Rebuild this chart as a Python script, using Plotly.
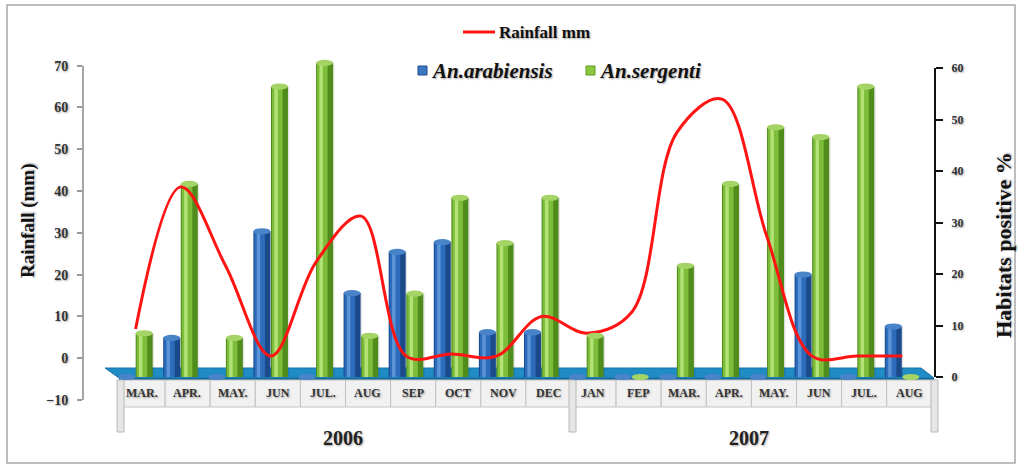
import plotly.graph_objects as go

# ---- data -------------------------------------------------------------
months = ["MAR.", "APR.", "MAY.", "JUN", "JUL.", "AUG", "SEP", "OCT", "NOV", "DEC",
          "JAN", "FEP", "MAR.", "APR.", "MAY.", "JUN", "JUL.", "AUG"]
year_labels = ["2006", "2007"]
year_counts = [10, 8]

# habitats positive (%)
arabiensis = [0, 7.6, 0, 28.3, 0, 16.3, 24.3, 26.2, 8.7, 8.7,
              0, 0, 0, 0, 0, 19.9, 0, 9.8]
sergenti = [8.5, 37.5, 7.6, 56.4, 61, 8, 16.2, 34.8, 26, 34.8,
            8, 0, 21.6, 37.5, 48.5, 46.6, 56.4, 0]

# rainfall (mm)
rainfall = [7, 41, 22, 0.5, 23, 34, 0.5, 1, 0.5, 10,
            6, 11, 54, 62, 29, 0.5, 0.5, 0.5]

left_ticks = list(range(-10, 71, 10))
right_ticks = list(range(0, 61, 10))

# ---- geometry helpers ---------------------------------------------------
W, H = 1021, 465
ML, MR, MT, MB = 83, 86, 50, 65
LEFT_PX = 334.3 / 80      # pixels per mm on the rainfall axis
RIGHT_PX = 5.15           # pixels per % on the habitats axis
FLOOR_Y = 377             # pixel row of 0 %


def px(x):
    return (x - ML) / (W - ML - MR)


def py(y):
    return (H - MB - y) / (H - MT - MB)


SERIF = "Liberation Serif"
SHADOW = "1px 1px 2px rgba(0,0,0,0.35)"
idx = list(range(len(months)))
BAR_W = 0.377
step = 45.1

fig = go.Figure()
shapes = []

# outer frame
shapes.append(dict(type="rect", xref="paper", yref="paper",
                   x0=px(7), x1=px(1015), y0=py(463), y1=py(5),
                   fillcolor="rgba(0,0,0,0)",
                   line=dict(color="#a8a8a8", width=1.5), layer="below"))
# floor of the bar area
shapes.append(dict(type="path", xref="paper", yref="paper",
                   path=f"M {px(105)},{py(368)} L {px(921)},{py(368)} "
                        f"L {px(934)},{py(378)} L {px(119)},{py(378)} Z",
                   fillcolor="#1f8cc6", line=dict(color="#1a74a8", width=1), layer="below"))
shapes.append(dict(type="rect", xref="paper", yref="paper",
                   x0=px(119), x1=px(934), y0=py(380), y1=py(378),
                   fillcolor="#17699a", line_width=0, layer="below"))
# category label cells
for i in idx:
    shapes.append(dict(type="rect", xref="paper", yref="paper",
                       x0=px(120 + step * i), x1=px(120 + step * (i + 1)),
                       y0=py(407), y1=py(380),
                       fillcolor="#f1f1f1", line=dict(color="#c2c2c2", width=1),
                       layer="below"))
# year group separators
for xs in (117, 569, 931):
    shapes.append(dict(type="rect", xref="paper", yref="paper",
                       x0=px(xs), x1=px(xs + 7), y0=py(432), y1=py(380),
                       fillcolor="#e6e6e6", line=dict(color="#b8b8b8", width=1),
                       layer="below"))


def add_cylinder(vals, center, dark, main, light, cap):
    off = center - BAR_W / 2
    common = dict(x=idx, y=vals, yaxis="y", showlegend=False, hoverinfo="skip",
                  marker_line_width=0)
    fig.add_trace(go.Bar(offset=off + 0.07, width=BAR_W * 0.9,
                         marker_color="rgba(0,0,0,0.10)", **common))
    fig.add_trace(go.Bar(offset=off, width=BAR_W, marker_color=dark, **common))
    fig.add_trace(go.Bar(offset=off + BAR_W * 0.06, width=BAR_W * 0.62,
                         marker_color=main, **common))
    fig.add_trace(go.Bar(offset=off + BAR_W * 0.2, width=BAR_W * 0.2,
                         marker_color=light, **common))
    # elliptical top of each cylinder
    for i, v in zip(idx, vals):
        shapes.append(dict(type="circle", xref="x", yref="y",
                           x0=i + off, x1=i + off + BAR_W, y0=v - 0.6, y1=v + 0.6,
                           fillcolor=cap, line=dict(width=0), layer="above"))


add_cylinder(arabiensis, -0.2, "#1b4a8a", "#2d6cbc", "#5b95d8", "#4a84c8")
add_cylinder(sergenti, 0.19, "#4f8c1c", "#7dbd3a", "#b3e276", "#a4d466")

# rainfall line on the overlaid (left) axis so it sits above the bars
fig.add_trace(go.Scatter(x=idx, y=rainfall, yaxis="y2", mode="lines",
                         line=dict(color="#ff1414", width=3, shape="spline", smoothing=1),
                         showlegend=False, hoverinfo="skip"))

# axis lines limited to the ticked span
shapes.append(dict(type="line", xref="paper", yref="y2", x0=0, x1=0,
                   y0=left_ticks[0], y1=left_ticks[-1],
                   line=dict(color="#a6a6a6", width=2)))
shapes.append(dict(type="line", xref="paper", yref="y", x0=1, x1=1,
                   y0=right_ticks[0], y1=right_ticks[-1],
                   line=dict(color="#111111", width=2)))
# legend swatches
shapes.append(dict(type="line", xref="paper", yref="paper",
                   x0=px(463), x1=px(495), y0=py(32), y1=py(32),
                   line=dict(color="#ff1414", width=3)))
shapes.append(dict(type="rect", xref="paper", yref="paper",
                   x0=px(418), x1=px(427), y0=py(75), y1=py(66),
                   fillcolor="#3a78c2", line=dict(color="#1d4f8f", width=1)))
shapes.append(dict(type="rect", xref="paper", yref="paper",
                   x0=px(586), x1=px(595), y0=py(75), y1=py(66),
                   fillcolor="#8dc63f", line=dict(color="#5e9a22", width=1)))

annotations = []
for i, m in zip(idx, months):
    annotations.append(dict(x=i + 0.15, xref="x", y=py(393), yref="paper",
                            xanchor="center", yanchor="middle",
                            text=m, showarrow=False,
                            font=dict(family=SERIF, size=12, color="#333333",
                                      weight="bold", shadow=SHADOW)))
start = 0
for label, n in zip(year_labels, year_counts):
    centre = start + (n - 1) / 2 + 0.1
    annotations.append(dict(x=centre, xref="x", y=py(438), yref="paper",
                            xanchor="center", yanchor="middle",
                            text=label, showarrow=False,
                            font=dict(family=SERIF, size=20, color="#222222",
                                      weight="bold", shadow=SHADOW)))
    start += n

annotations += [
    dict(x=px(28), y=py(221), xref="paper", yref="paper", text="Rainfall (mm)",
         xanchor="center", yanchor="middle", textangle=-90, showarrow=False,
         font=dict(family=SERIF, size=19, color="#111111", weight="bold", shadow=SHADOW)),
    dict(x=px(1003), y=py(245), xref="paper", yref="paper", text="Habitats positive %",
         xanchor="center", yanchor="middle", textangle=-90, showarrow=False,
         font=dict(family=SERIF, size=22, color="#111111", weight="bold", shadow=SHADOW)),
    dict(x=px(497), y=py(32), xref="paper", yref="paper", text="Rainfall mm",
         xanchor="left", yanchor="middle", showarrow=False,
         font=dict(family=SERIF, size=17, color="#111111", weight="bold", shadow=SHADOW)),
    dict(x=px(429), y=py(71), xref="paper", yref="paper", text="An.arabiensis",
         xanchor="left", yanchor="middle", showarrow=False,
         font=dict(family=SERIF, size=21, color="#111111", weight="bold",
                   style="italic", shadow=SHADOW)),
    dict(x=px(597), y=py(71), xref="paper", yref="paper", text="An.sergenti",
         xanchor="left", yanchor="middle", showarrow=False,
         font=dict(family=SERIF, size=21, color="#111111", weight="bold",
                   style="italic", shadow=SHADOW)),
]

# axis ranges follow from the pixel rows of their zero lines
plot_top, plot_bot = MT, H - MB
r_top = (FLOOR_Y - plot_top) / RIGHT_PX
r_bot = -(plot_bot - FLOOR_Y) / RIGHT_PX
l_top = 70 + (65.7 - plot_top) / LEFT_PX

fig.update_layout(
    width=W, height=H,
    margin=dict(l=ML, r=MR, t=MT, b=MB),
    paper_bgcolor="white", plot_bgcolor="rgba(0,0,0,0)",
    barmode="overlay",
    showlegend=False,
    xaxis=dict(range=[(83 - 135.6) / step, (935 - 135.6) / step],
               showticklabels=False, ticks="", showgrid=False, zeroline=False,
               showline=False, fixedrange=True),
    yaxis=dict(side="right", range=[r_bot, r_top], tickvals=right_ticks,
               ticks="outside", ticklen=7, tickwidth=2, tickcolor="#111111",
               showline=False, showgrid=False, zeroline=False,
               tickfont=dict(family=SERIF, size=12, color="#333333", weight="bold",
                             shadow=SHADOW),
               ticklabelstandoff=6),
    yaxis2=dict(side="left", overlaying="y", range=[-10, l_top], tickvals=left_ticks,
                ticks="outside", ticklen=5, tickcolor="#9a9a9a", tickwidth=1.5,
                showline=False, showgrid=False, zeroline=False,
                tickfont=dict(family=SERIF, size=14, color="#333333", weight="bold",
                              shadow=SHADOW),
                ticklabelstandoff=6),
    shapes=shapes,
    annotations=annotations,
)

fig.write_html("out.html")
